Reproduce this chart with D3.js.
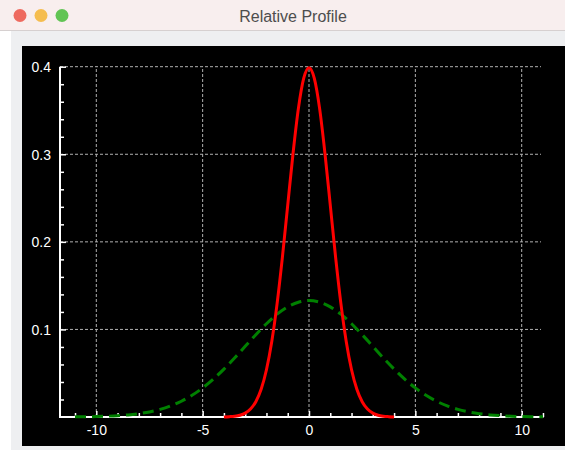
<!DOCTYPE html>
<html><head><meta charset="utf-8">
<script src="https://cdn.jsdelivr.net/npm/d3@7"></script>
<style>html,body{margin:0;padding:0;background:#fff;}svg{display:block;}</style>
</head><body>
<script>
const title = "Relative Profile";
const xTicks = [-10, -5, 0, 5, 10];
const xTickLabels = ["-10", "-5", "0", "5", "10"];
const yTicks = [0.1, 0.2, 0.3, 0.4];
const yTickLabels = ["0.1", "0.2", "0.3", "0.4"];
// red solid series
const redX = [-4,-3.75,-3.5,-3.25,-3,-2.75,-2.5,-2.25,-2,-1.75,-1.5,-1.25,-1,-0.75,-0.5,-0.25,0,0.25,0.5,0.75,1,1.25,1.5,1.75,2,2.25,2.5,2.75,3,3.25,3.5,3.75,4];
const redY = [0.0001,0.0004,0.0009,0.0020,0.0044,0.0091,0.0175,0.0317,0.0540,0.0863,0.1295,0.1826,0.2420,0.3011,0.3521,0.3867,0.3989,0.3867,0.3521,0.3011,0.2420,0.1826,0.1295,0.0863,0.0540,0.0317,0.0175,0.0091,0.0044,0.0020,0.0009,0.0004,0.0001];
// green dashed series
const greenX = [-11,-10.5,-10,-9.5,-9,-8.5,-8,-7.5,-7,-6.5,-6,-5.5,-5,-4.5,-4,-3.5,-3,-2.5,-2,-1.5,-1,-0.5,0,0.5,1,1.5,2,2.5,3,3.5,4,4.5,5,5.5,6,6.5,7,7.5,8,8.5,9,9.5,10,10.5,11];
const greenY = [0.0002,0.0003,0.0005,0.0009,0.0015,0.0024,0.0038,0.0058,0.0087,0.0127,0.0180,0.0248,0.0332,0.0432,0.0547,0.0673,0.0807,0.0940,0.1065,0.1174,0.1258,0.1311,0.1330,0.1311,0.1258,0.1174,0.1065,0.0940,0.0807,0.0673,0.0547,0.0432,0.0332,0.0248,0.0180,0.0127,0.0087,0.0058,0.0038,0.0024,0.0015,0.0009,0.0005,0.0003,0.0002];

const W = 565, H = 453;
const svg = d3.select("body").append("svg").attr("width", W).attr("height", H);
const font = "Helvetica, 'Liberation Sans', Arial, sans-serif";

// window chrome
svg.append("rect").attr("x",0).attr("y",0).attr("width",W).attr("height",30).attr("fill","#f8eeee");
svg.append("line").attr("x1",0).attr("x2",W).attr("y1",30.5).attr("y2",30.5).attr("stroke","#d6d0d0");
[["#ee6a5f",20],["#f5bd4f",41],["#61c454",62]].forEach(([c,cx])=>{
  svg.append("circle").attr("cx",cx).attr("cy",15.5).attr("r",6.5).attr("fill",c);
});
svg.append("text").attr("x",293).attr("y",21.5).attr("text-anchor","middle")
  .attr("font-family",font).attr("font-size",16).attr("fill","#4d4d4d").text(title);
svg.append("rect").attr("x",11).attr("y",31).attr("width",W-11).attr("height",419).attr("fill","#eeeff1");
svg.append("rect").attr("x",22).attr("y",46).attr("width",W-22).attr("height",400).attr("fill","#000");

// scales
const x = d3.scaleLinear().domain([-10, 10]).range([96.3, 521.7]);
const y = d3.scaleLinear().domain([0, 0.4]).range([417, 66.7]);
const xLeft = 60, xRight = 543.5, gridRight = 541;

const g = svg.append("g");
// grid
g.selectAll(".vg").data(xTicks).join("line")
  .attr("x1", d=>x(d)).attr("x2", d=>x(d)).attr("y1", y(0)).attr("y2", y(0.4))
  .attr("stroke","#b0b0b0").attr("stroke-width",1).attr("stroke-dasharray","3,2");
g.selectAll(".hg").data(yTicks).join("line")
  .attr("x1", xLeft).attr("x2", gridRight).attr("y1", d=>y(d)).attr("y2", d=>y(d))
  .attr("stroke","#b0b0b0").attr("stroke-width",1).attr("stroke-dasharray","3,2");

// axes
const xAxis = d3.axisTop(x).tickValues(xTicks).tickFormat((d,i)=>xTickLabels[i]).tickSize(6).tickSizeOuter(0);
const xMinor = d3.axisTop(x).tickValues(d3.range(-11, 12, 1).filter(v=>v%5!==0)).tickFormat("").tickSize(4).tickSizeOuter(0);
const yAxis = d3.axisRight(y).tickValues(yTicks).tickFormat((d,i)=>yTickLabels[i]).tickSize(6).tickSizeOuter(0);
const yMinor = d3.axisRight(y).tickValues(d3.range(1, 20).map(v=>v*0.02).filter(v=>Math.abs(v*10-Math.round(v*10))>1e-6)).tickFormat("").tickSize(4).tickSizeOuter(0);

function styleAxis(sel){
  sel.select(".domain").remove();
  sel.selectAll(".tick line").attr("stroke","#fff").attr("stroke-width",1.5);
  sel.selectAll(".tick text").attr("fill","#fff").attr("font-family",font).attr("font-size",14);
}
const gx = svg.append("g").attr("transform",`translate(0,${y(0)})`).call(xAxis).call(styleAxis);
gx.selectAll(".tick text").attr("y",17.5).attr("dy","0");
svg.append("g").attr("transform",`translate(0,${y(0)})`).call(xMinor).call(styleAxis);
const gy = svg.append("g").attr("transform",`translate(${xLeft},0)`).call(yAxis).call(styleAxis);
gy.selectAll(".tick text").attr("text-anchor","end").attr("x",-9).attr("dy","0.35em");
svg.append("g").attr("transform",`translate(${xLeft},0)`).call(yMinor).call(styleAxis);

// axis lines
svg.append("line").attr("x1",xLeft).attr("x2",xRight).attr("y1",y(0)).attr("y2",y(0)).attr("stroke","#fff").attr("stroke-width",2);
svg.append("line").attr("x1",xLeft).attr("x2",xLeft).attr("y1",y(0)+1).attr("y2",y(0.4)).attr("stroke","#fff").attr("stroke-width",2);

// series
const line = d3.line().x(d=>x(d[0])).y(d=>y(d[1])).curve(d3.curveMonotoneX);
svg.append("path").datum(greenX.map((v,i)=>[v,greenY[i]])).attr("d",line)
  .attr("fill","none").attr("stroke","#008000").attr("stroke-width",3).attr("stroke-dasharray","11,6");
svg.append("path").datum(redX.map((v,i)=>[v,redY[i]])).attr("d",line)
  .attr("fill","none").attr("stroke","#ff0000").attr("stroke-width",3);
</script>
</body></html>
